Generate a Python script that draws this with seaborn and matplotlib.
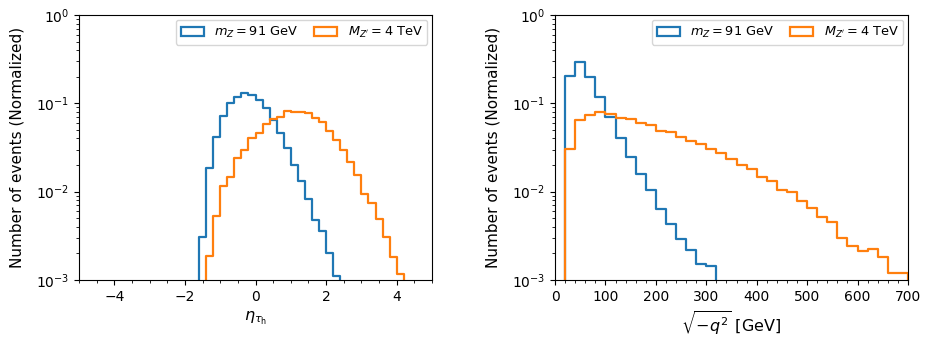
import numpy as np
import pandas as pd
import matplotlib
matplotlib.use("Agg")
import matplotlib.pyplot as plt
from matplotlib.patches import Patch
from matplotlib.ticker import AutoMinorLocator
import seaborn as sns

# ---------------- data ----------------
labels = [r"$m_Z = 91$ GeV", r"$M_{Z'} = 4$ TeV"]
colors = ["#1f77b4", "#ff7f0e"]

# left panel: eta_tau_h, bin width 0.2
eta_width = 0.2
eta_blue_start = -1.6
eta_blue = [0.00304, 0.0184, 0.0416, 0.0724, 0.100, 0.119, 0.130, 0.125, 0.109, 0.0878,
            0.0648, 0.0465, 0.0312, 0.0200, 0.0133, 0.00826, 0.00478, 0.00356, 0.00202, 0.00112]
eta_orange_start = -1.4
eta_orange = [0.00187, 0.00535, 0.0116, 0.0148, 0.0240, 0.0294, 0.0402, 0.0465, 0.0578, 0.066,
              0.0706, 0.0826, 0.0797, 0.0797, 0.0775, 0.069, 0.061, 0.048, 0.0388, 0.0298,
              0.0217, 0.0153, 0.00933, 0.00738, 0.00486, 0.00309, 0.0018, 0.00116]

# right panel: sqrt(-q^2) [GeV], bin width 20
q_width = 20
q_blue_start = 20
q_blue = [0.204, 0.296, 0.200, 0.118, 0.0695, 0.0402, 0.0249, 0.0158, 0.0104, 0.0064,
          0.0043, 0.0029, 0.0022, 0.0015, 0.00144]
q_orange_start = 20
q_orange = [0.0304, 0.0643, 0.0738, 0.0791, 0.0751, 0.0688, 0.0659, 0.0594, 0.0564, 0.0490,
            0.0477, 0.0412, 0.0378, 0.0346, 0.0302, 0.0272, 0.0232, 0.0202, 0.0179, 0.0147,
            0.0133, 0.0104, 0.0099, 0.0079, 0.00653, 0.00521, 0.0045, 0.00296, 0.00243, 0.00211,
            0.00224, 0.00184, 0.00121, 0.00121]

eta_ticks = [-4, -2, 0, 2, 4]
q_ticks = [0, 100, 200, 300, 400, 500, 600, 700]


def draw(ax, start, width, vals, color):
    n = len(vals)
    # one empty bin on each side so the outline drops to the axis
    edges = [float(start + width * k) for k in range(-1, n + 2)]
    centers = [start + width * (k + 0.5) for k in range(n)]
    df = pd.DataFrame({"x": centers, "w": vals})
    sns.histplot(data=df, x="x", weights="w", bins=edges, element="step", fill=False,
                 color=color, linewidth=1.6, ax=ax)


fig = plt.figure(figsize=(9.27, 3.49), dpi=100)
ax1 = fig.add_axes([79 / 927, 1 - 280 / 349, 353 / 927, 265 / 349])
ax2 = fig.add_axes([555 / 927, 1 - 280 / 349, 353 / 927, 265 / 349])

draw(ax1, eta_blue_start, eta_width, eta_blue, colors[0])
draw(ax1, eta_orange_start, eta_width, eta_orange, colors[1])
draw(ax2, q_blue_start, q_width, q_blue, colors[0])
draw(ax2, q_orange_start, q_width, q_orange, colors[1])

for ax in (ax1, ax2):
    ax.set_yscale("log")
    ax.set_ylim(1e-3, 1)
    ax.set_ylabel("Number of events (Normalized)", fontsize=11, labelpad=8)
    handles = [Patch(facecolor="none", edgecolor=c, linewidth=1.6) for c in colors]
    ax.legend(handles, labels, loc="upper right", ncol=2, fontsize=9.3,
              handlelength=1.8, columnspacing=1.2, borderaxespad=0.35)

ax1.set_xlim(-5, 5)
ax1.set_xticks(eta_ticks)
ax1.set_xlabel(r"$\eta_{\tau_{\rm h}}$", fontsize=11.5)
ax2.set_xlim(0, 700)
ax2.set_xticks(q_ticks)
ax2.set_xlabel(r"$\sqrt{-q^2}$ [GeV]", fontsize=11.5)

for ax in (ax1, ax2):
    ax.xaxis.set_minor_locator(AutoMinorLocator())

fig.savefig("out.png", dpi=100)
